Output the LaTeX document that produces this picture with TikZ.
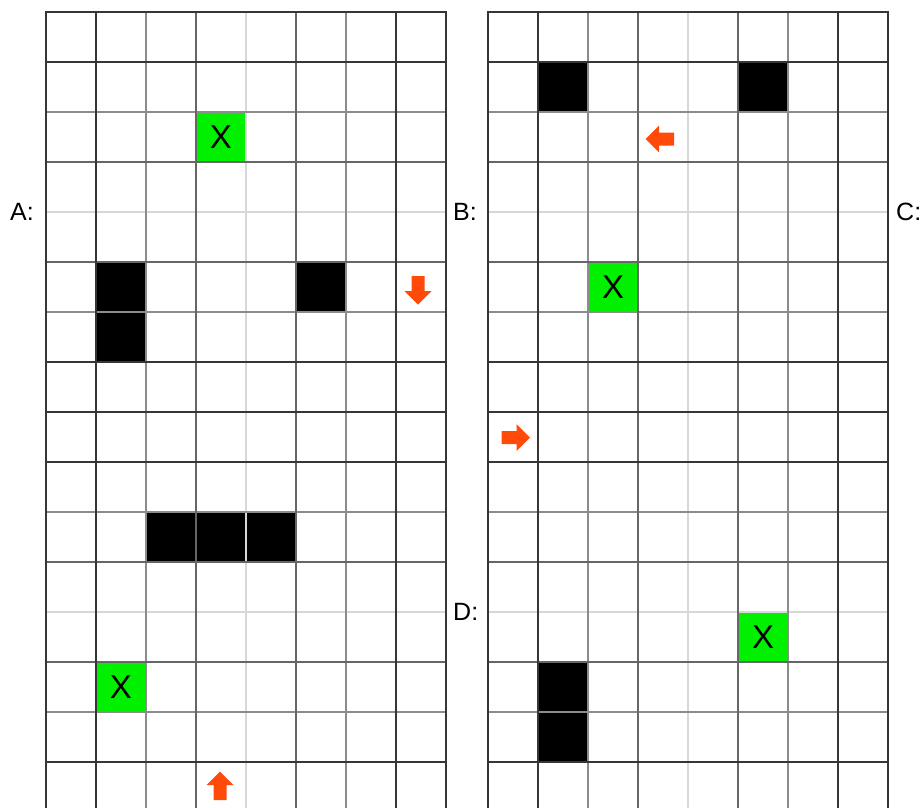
\documentclass[tikz,border=0pt]{standalone}
\usepackage{fontspec}
\setmainfont{Liberation Sans}
\definecolor{gdk}{HTML}{363636}
\definecolor{gmk}{HTML}{666666}
\definecolor{gmd}{HTML}{8C8C8C}
\definecolor{glt}{HTML}{D8D8D8}
\definecolor{cellgreen}{HTML}{00F000}
\definecolor{arrowred}{HTML}{FF4A0A}
\begin{document}
\begin{tikzpicture}[x=1pt,y=1pt,
  greencell/.style={fill=cellgreen, minimum size=47.4pt, inner sep=0pt, font=\fontsize{33}{33}\selectfont},
  wallcell/.style={fill=black, minimum size=47.4pt, inner sep=0pt},
  gridlabel/.style={anchor=base west, inner sep=0pt, font=\fontsize{25}{30}\selectfont},
  gline/.style={line width=2.2pt, line cap=rect},
  blockarrow/.pic={\fill[arrowred] (-14,-6.5) -- (1,-6.5) -- (1,-13.5) -- (14.5,0) -- (1,13.5) -- (1,6.5) -- (-14,6.5) -- cycle;}]
\useasboundingbox (0,0) rectangle (924,-807);
\fill[white] (0,0) rectangle (924,-807);
% grid lines, lightest first
\foreach \gx in {46,488}{
  \foreach \c/\vl/\hl in {glt/{4}/{4,12}, gmd/{2,6}/{2,6,10,14}, gmk/{3,5}/{3,5,11,13}, gdk/{0,1,7,8}/{0,1,7,8,9,15}}{
    \foreach \i in \vl {\draw[gline,\c] (\gx+50*\i,-12) -- (\gx+50*\i,-807);}
    \foreach \j in \hl {\draw[gline,\c] (\gx,-12-50*\j) -- (\gx+400,-12-50*\j);}
  }
}
% left grid
\node[greencell] (xa) at (221,-137) {X};
\node[greencell] (xb) at (121,-687) {X};
\node[wallcell] (wa1) at (121,-287) {};
\node[wallcell] (wa2) at (121,-337) {};
\node[wallcell] (wa3) at (321,-287) {};
\node[wallcell] (wb1) at (171,-537) {};
\node[wallcell] (wb2) at (221,-537) {};
\node[wallcell] (wb3) at (271,-537) {};
\pic[rotate=-90] at (418,-290) {blockarrow};
\pic[rotate=90] at (220,-786) {blockarrow};
% right grid
\node[wallcell] (wc1) at (563,-87) {};
\node[wallcell] (wc2) at (763,-87) {};
\node[greencell] (xc) at (613,-287) {X};
\node[greencell] (xd) at (763,-637) {X};
\node[wallcell] (wd1) at (563,-687) {};
\node[wallcell] (wd2) at (563,-737) {};
\pic[rotate=180] at (660,-139) {blockarrow};
\pic at (515.5,-437.5) {blockarrow};
% labels
\node[gridlabel] (labA) at (10,-220) {A:};
\node[gridlabel] (labB) at (453,-220) {B:};
\node[gridlabel] (labC) at (896,-220) {C:};
\node[gridlabel] (labD) at (453,-620.5) {D:};
\end{tikzpicture}
\end{document}
